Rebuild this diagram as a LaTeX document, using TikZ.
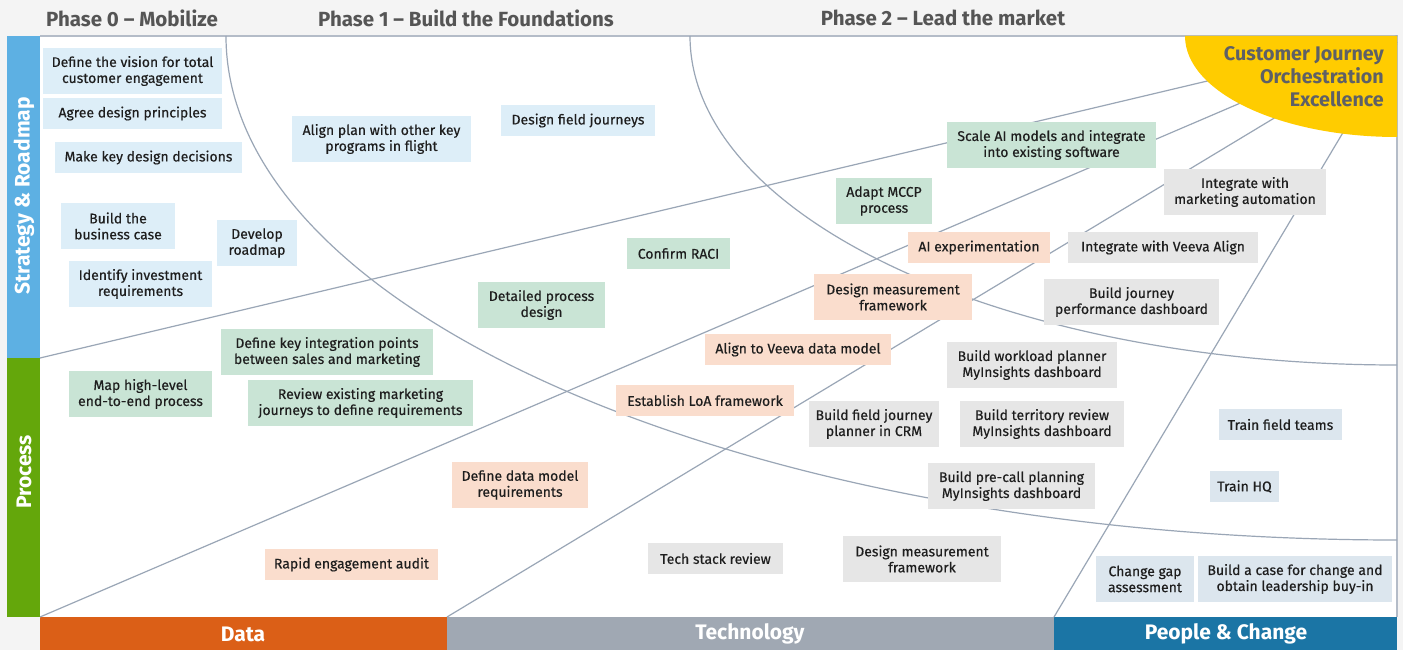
\documentclass[tikz,border=0pt]{standalone}
\usepackage{fontspec}
\setmainfont{Fira Sans}
\newfontfamily\boxfont{Fira Sans}[FakeBold=0.4]
\usetikzlibrary{positioning}
\definecolor{pagegray}{HTML}{F4F4F4}
\definecolor{rimcol}{HTML}{B4BCC8}
\definecolor{curvecol}{HTML}{9AA6B6}
\definecolor{headcol}{HTML}{555555}
\definecolor{txtcol}{HTML}{1E1E1E}
\definecolor{stratcol}{HTML}{5DB0E3}
\definecolor{proccol}{HTML}{64A70B}
\definecolor{datacol}{HTML}{DB5F17}
\definecolor{techcol}{HTML}{A0A8B3}
\definecolor{peoplecol}{HTML}{1B75A5}
\definecolor{goalcol}{HTML}{FFCC00}
\definecolor{goaltxt}{HTML}{5E6066}
\definecolor{stratfill}{HTML}{DDEEF8}
\definecolor{procfill}{HTML}{C9E4D5}
\definecolor{datafill}{HTML}{FADDCD}
\definecolor{techfill}{HTML}{E6E6E6}
\definecolor{peoplefill}{HTML}{DCE6EE}
\tikzset{
    task/.style = {
        rectangle, align=center, inner sep=2pt, minimum height=31,
        text=txtcol, font=\boxfont\fontsize{14}{16}\selectfont
    },
    tall/.style = {minimum height=46},
    stratbox/.style = {task, fill=stratfill},
    procbox/.style = {task, fill=procfill},
    databox/.style = {task, fill=datafill},
    techbox/.style = {task, fill=techfill},
    peoplebox/.style = {task, fill=peoplefill},
    phase/.style = {text=headcol, font=\bfseries\fontsize{20.5}{24}\selectfont},
    lane/.style = {text=white, font=\bfseries\fontsize{21}{24}\selectfont},
    divider/.style = {draw=curvecol, line width=1.2pt},
}

\begin{document}
\begin{tikzpicture}[x=1pt, y=-1pt]
        \useasboundingbox (0,0) rectangle (1403,650);
        \fill[pagegray] (0,0) rectangle (1403,650);
        % Panel and lanes
        \fill[white] (40,36) rectangle (1397,617);
        \draw[rimcol, line width=1.5pt] (40,36) -- (1397,36) -- (1397,617);
        \fill[stratcol] (7,36) rectangle (40,358);
        \fill[proccol] (7,358) rectangle (40,617);
        \fill[datacol] (40,617) rectangle (447,650);
        \fill[techcol] (447,617) rectangle (1054,650);
        \fill[peoplecol] (1054,617) rectangle (1397,650);
        \node[lane, rotate=90] (strat) at (24,196) {Strategy \& Roadmap};
        \node[lane, rotate=90] (proc) at (24,472) {Process};
        \node[lane] (data) at (243,634) {Data};
        \node[lane] (tech) at (750,634) {Technology};
        \node[lane] (people) at (1226,634) {People \& Change};
        % Phase titles
        \node[phase] (ph0) at (132,18) {Phase 0 -- Mobilize};
        \node[phase] (ph1) at (466,18) {Phase 1 -- Build the Foundations};
        \node[phase] (ph2) at (943,18) {Phase 2 -- Lead the market};

        % Phase curves and lane dividers
        \coordinate (hub) at (1397,36);
        \coordinate (a) at (40,358);
        \coordinate (b) at (40,617);
        \coordinate (c) at (447,617);
        \coordinate (d) at (1054,617);
        \draw[divider] (226,36) .. controls (226,314) and (750,540) .. (1397,540);
        \draw[divider] (690,36) .. controls (690,218) and (1007,365) .. (1397,365);
        \draw[divider] (a) -- (hub);
        \draw[divider] (b) -- (hub);
        \draw[divider] (c) -- (1397,44);
        \draw[divider] (d) -- (1397,42);
        \fill[goalcol] (1185,36) .. controls (1185,92) and (1280,137) .. (1397,137) -- (hub) -- cycle;
        \node[text=goaltxt, align=right, anchor=north east, inner sep=0pt,
              font=\bfseries\fontsize{19.7}{23}\selectfont] (goal) at (1384,46)
              {Customer Journey\\Orchestration\\Excellence};

        % Strategy & Roadmap
        \node[stratbox, tall, minimum width=179] (s1) at (132.5,71) {Define the vision for total\\customer engagement};
        \node[stratbox, minimum width=179] (s2) at (132.5,113.5) {Agree design principles};
        \node[stratbox, minimum width=187] (s3) at (148.5,157.5) {Make key design decisions};
        \node[stratbox, tall, minimum width=114] (s4) at (118,226) {Build the\\business case};
        \node[stratbox, tall, minimum width=80] (s5) at (257,243) {Develop\\roadmap};
        \node[stratbox, tall, minimum width=143] (s6) at (140.5,284) {Identify investment\\requirements};
        \node[stratbox, tall, minimum width=179] (s7) at (381.5,139) {Align plan with other key\\programs in flight};
        \node[stratbox, minimum width=154] (s8) at (578,120.5) {Design field journeys};
        % Process
        \node[procbox, tall, minimum width=212] (p1) at (327,352) {Define key integration points\\between sales and marketing};
        \node[procbox, tall, minimum width=143] (p2) at (140.5,394) {Map high-level\\end-to-end process};
        \node[procbox, tall, minimum width=225] (p3) at (360.5,403) {Review existing marketing\\journeys to define requirements};
        \node[procbox, tall, minimum width=127] (p4) at (541.5,305) {Detailed process\\design};
        \node[procbox, minimum width=103] (p5) at (678.5,253.5) {Confirm RACI};
        \node[procbox, tall, minimum width=96] (p6) at (884,201) {Adapt MCCP\\process};
        \node[procbox, tall, minimum width=209] (p7) at (1051.5,145) {Scale AI models and integrate\\into existing software};
        % Data
        \node[databox, minimum width=142] (d1) at (979,247.5) {AI experimentation};
        \node[databox, tall, minimum width=158] (d2) at (893,297) {Design measurement\\framework};
        \node[databox, minimum width=186] (d3) at (798,349.5) {Align to Veeva data model};
        \node[databox, minimum width=178] (d4) at (705,400.5) {Establish LoA framework};
        \node[databox, tall, minimum width=136] (d5) at (520,485) {Define data model\\requirements};
        \node[databox, minimum width=173] (d6) at (351.5,564.5) {Rapid engagement audit};
        % Technology
        \node[techbox, tall, minimum width=162] (t1) at (1245,192) {Integrate with\\marketing automation};
        \node[techbox, minimum width=190] (t2) at (1163,247.5) {Integrate with Veeva Align};
        \node[techbox, tall, minimum width=175] (t3) at (1131.5,302) {Build journey\\performance dashboard};
        \node[techbox, tall, minimum width=170] (t4) at (1032,365) {Build workload planner\\MyInsights dashboard};
        \node[techbox, tall, minimum width=164] (t5) at (1042,424) {Build territory review\\MyInsights dashboard};
        \node[techbox, tall, minimum width=130] (t6) at (874,424) {Build field journey\\planner in CRM};
        \node[techbox, tall, minimum width=167] (t7) at (1011.5,486) {Build pre-call planning\\MyInsights dashboard};
        \node[techbox, minimum width=135] (t8) at (715.5,558.5) {Tech stack review};
        \node[techbox, tall, minimum width=158] (t9) at (922,559) {Design measurement\\framework};
        % People & Change
        \node[peoplebox, minimum width=123] (c1) at (1280.5,424.5) {Train field teams};
        \node[peoplebox, minimum width=69] (c2) at (1244.5,486.5) {Train HQ};
        \node[peoplebox, tall, minimum width=98] (c3) at (1145,579) {Change gap\\assessment};
        \node[peoplebox, tall, minimum width=194] (c4) at (1295,579) {Build a case for change and\\obtain leadership buy-in};
    \end{tikzpicture}
\end{document}
